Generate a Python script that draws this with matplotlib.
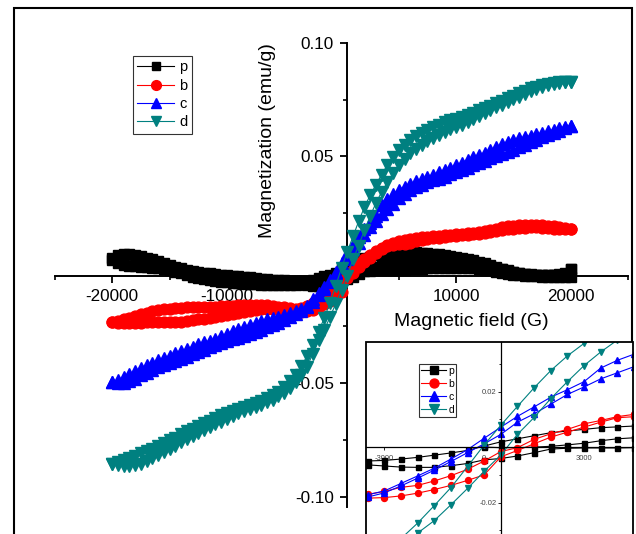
import matplotlib
matplotlib.use("Agg")
import matplotlib.pyplot as plt
from matplotlib.patches import Rectangle
from matplotlib.ticker import FixedLocator

plt.rcParams['font.family'] = ['Liberation Sans', 'DejaVu Sans']

# ---------------- data (field in G, magnetization in emu/g) ----------------
FIELD_DOWN = [20000, 19500, 19000, 18500, 18000, 17500, 17000, 16500, 16000, 15500,
              15000, 14500, 14000, 13500, 13000, 12500, 12000, 11500, 11000, 10500,
              10000, 9500, 9000, 8500, 8000, 7500, 7000, 6500, 6000, 5500,
              5000, 4500, 4000, 3500, 3000, 2500, 2000, 1500, 1000, 500,
              0, -500, -1000, -1500, -2000, -2500, -3000, -3500, -4000, -4500,
              -5000, -5500, -6000, -6500, -7000, -7500, -8000, -8500, -9000, -9500,
              -10000, -10500, -11000, -11500, -12000, -12500, -13000, -13500, -14000, -14500,
              -15000, -15500, -16000, -16500, -17000, -17500, -18000, -18500, -19000, -19500,
              -20000]
FIELD_UP = FIELD_DOWN[::-1]
FIELD_VIRGIN = FIELD_UP[40:]

P_VIRGIN = [0.0000, -0.0002, -0.0002, 0.0000, 0.0003, 0.0008, 0.0014, 0.0023, 0.0030, 0.0034,
            0.0036, 0.0037, 0.0038, 0.0038, 0.0038, 0.0038, 0.0038, 0.0037, 0.0037, 0.0036,
            0.0035, 0.0034, 0.0032, 0.0029, 0.0026, 0.0021, 0.0016, 0.0010, 0.0004, -0.0002,
            -0.0008, -0.0013, -0.0017, -0.0020, -0.0022, -0.0023, -0.0024, -0.0024, -0.0024, -0.0022,
            0.0005]
P_DOWN = [0.0005, -0.0015, -0.0020, -0.0021, -0.0022, -0.0023, -0.0022, -0.0021, -0.0019, -0.0016,
          -0.0011, -0.0005, 0.0003, 0.0011, 0.0019, 0.0028, 0.0036, 0.0043, 0.0049, 0.0053,
          0.0057, 0.0061, 0.0065, 0.0068, 0.0071, 0.0074, 0.0076, 0.0078, 0.0079, 0.0080,
          0.0079, 0.0076, 0.0073, 0.0070, 0.0064, 0.0058, 0.0052, 0.0041, 0.0030, 0.0019,
          0.0004, -0.0012, -0.0021, -0.0029, -0.0037, -0.0043, -0.0048, -0.0050, -0.0050, -0.0049,
          -0.0047, -0.0045, -0.0043, -0.0041, -0.0039, -0.0036, -0.0033, -0.0030, -0.0028, -0.0026,
          -0.0024, -0.0021, -0.0018, -0.0015, -0.0012, -0.0009, -0.0005, 0.0000, 0.0006, 0.0012,
          0.0020, 0.0028, 0.0037, 0.0046, 0.0054, 0.0060, 0.0065, 0.0068, 0.0068, 0.0063,
          0.0052]
P_UP = [0.0045, 0.0032, 0.0023, 0.0018, 0.0015, 0.0013, 0.0011, 0.0009, 0.0006, 0.0002,
        -0.0003, -0.0009, -0.0015, -0.0022, -0.0030, -0.0036, -0.0041, -0.0045, -0.0049, -0.0052,
        -0.0055, -0.0058, -0.0060, -0.0062, -0.0063, -0.0064, -0.0065, -0.0066, -0.0066, -0.0066,
        -0.0066, -0.0066, -0.0065, -0.0064, -0.0068, -0.0072, -0.0073, -0.0073, -0.0067, -0.0059,
        -0.0046, -0.0041, -0.0032, -0.0020, -0.0007, -0.0004, -0.0003, -0.0003, -0.0003, -0.0002,
        -0.0001, 0.0000, 0.0002, 0.0004, 0.0005, 0.0006, 0.0007, 0.0008, 0.0008, 0.0008,
        0.0008, 0.0008, 0.0007, 0.0006, 0.0004, 0.0001, -0.0003, -0.0008, -0.0013, -0.0018,
        -0.0022, -0.0025, -0.0027, -0.0028, -0.0029, -0.0030, -0.0031, -0.0032, -0.0033, -0.0034,
        -0.0030]

B_DOWN = [0.0178, 0.0183, 0.0188, 0.0192, 0.0195, 0.0197, 0.0198, 0.0199, 0.0198, 0.0197,
          0.0195, 0.0191, 0.0187, 0.0182, 0.0176, 0.0171, 0.0166, 0.0162, 0.0160, 0.0158,
          0.0156, 0.0154, 0.0152, 0.0150, 0.0148, 0.0146, 0.0143, 0.0140, 0.0136, 0.0131,
          0.0125, 0.0118, 0.0110, 0.0096, 0.0084, 0.0064, 0.0048, 0.0028, -0.0002, -0.0016,
          -0.0050, -0.0080, -0.0103, -0.0122, -0.0138, -0.0145, -0.0160, -0.0170, -0.0172, -0.0170,
          -0.0166, -0.0162, -0.0158, -0.0155, -0.0154, -0.0154, -0.0155, -0.0156, -0.0157, -0.0158,
          -0.0160, -0.0161, -0.0162, -0.0162, -0.0162, -0.0163, -0.0164, -0.0165, -0.0167, -0.0169,
          -0.0171, -0.0174, -0.0178, -0.0183, -0.0190, -0.0197, -0.0204, -0.0212, -0.0219, -0.0226,
          -0.0231]
B_UP = [-0.0231, -0.0235, -0.0236, -0.0235, -0.0234, -0.0233, -0.0232, -0.0232, -0.0232, -0.0232,
        -0.0232, -0.0231, -0.0229, -0.0227, -0.0223, -0.0219, -0.0215, -0.0212, -0.0209, -0.0205,
        -0.0200, -0.0195, -0.0190, -0.0185, -0.0181, -0.0178, -0.0175, -0.0173, -0.0172, -0.0172,
        -0.0173, -0.0176, -0.0180, -0.0184, -0.0182, -0.0176, -0.0166, -0.0153, -0.0138, -0.0120,
        -0.0100, -0.0035, -0.0012, 0.0012, 0.0036, 0.0054, 0.0072, 0.0090, 0.0106, 0.0110,
        0.0112, 0.0115, 0.0120, 0.0126, 0.0131, 0.0135, 0.0139, 0.0142, 0.0145, 0.0148,
        0.0150, 0.0152, 0.0155, 0.0157, 0.0159, 0.0162, 0.0165, 0.0169, 0.0174, 0.0179,
        0.0182, 0.0185, 0.0186, 0.0187, 0.0187, 0.0186, 0.0184, 0.0181, 0.0180, 0.0179,
        0.0178]

C_DOWN = [0.0632, 0.0629, 0.0624, 0.0618, 0.0611, 0.0604, 0.0597, 0.0591, 0.0586, 0.0579,
          0.0572, 0.0564, 0.0554, 0.0542, 0.0529, 0.0517, 0.0507, 0.0497, 0.0486, 0.0473,
          0.0460, 0.0450, 0.0440, 0.0430, 0.0420, 0.0410, 0.0400, 0.0390, 0.0379, 0.0367,
          0.0353, 0.0335, 0.0313, 0.0285, 0.0236, 0.0207, 0.0180, 0.0145, 0.0111, 0.0072,
          0.0032, -0.0009, -0.0043, -0.0076, -0.0104, -0.0131, -0.0158, -0.0172, -0.0182, -0.0192,
          -0.0200, -0.0207, -0.0213, -0.0218, -0.0226, -0.0235, -0.0245, -0.0254, -0.0262, -0.0270,
          -0.0281, -0.0294, -0.0304, -0.0313, -0.0320, -0.0328, -0.0339, -0.0349, -0.0359, -0.0369,
          -0.0379, -0.0389, -0.0399, -0.0409, -0.0420, -0.0432, -0.0445, -0.0458, -0.0472, -0.0485,
          -0.0495]
C_UP = [-0.0495, -0.0500, -0.0499, -0.0492, -0.0480, -0.0466, -0.0453, -0.0441, -0.0430, -0.0422,
        -0.0413, -0.0403, -0.0393, -0.0383, -0.0373, -0.0362, -0.0352, -0.0342, -0.0333, -0.0323,
        -0.0314, -0.0307, -0.0300, -0.0293, -0.0285, -0.0276, -0.0264, -0.0254, -0.0244, -0.0233,
        -0.0222, -0.0210, -0.0196, -0.0180, -0.0165, -0.0140, -0.0112, -0.0083, -0.0052, -0.0020,
        0.0012, 0.0046, 0.0090, 0.0120, 0.0155, 0.0190, 0.0217, 0.0246, 0.0268, 0.0290,
        0.0318, 0.0336, 0.0350, 0.0363, 0.0375, 0.0385, 0.0394, 0.0402, 0.0411, 0.0421,
        0.0431, 0.0441, 0.0451, 0.0460, 0.0471, 0.0481, 0.0491, 0.0501, 0.0511, 0.0520,
        0.0530, 0.0541, 0.0551, 0.0562, 0.0573, 0.0584, 0.0595, 0.0604, 0.0613, 0.0623,
        0.0632]

D_DOWN = [0.0830, 0.0829, 0.0827, 0.0824, 0.0820, 0.0815, 0.0808, 0.0800, 0.0790, 0.0779,
          0.0767, 0.0756, 0.0745, 0.0734, 0.0723, 0.0713, 0.0703, 0.0692, 0.0683, 0.0675,
          0.0667, 0.0659, 0.0650, 0.0640, 0.0628, 0.0616, 0.0603, 0.0588, 0.0571, 0.0551,
          0.0527, 0.0497, 0.0462, 0.0420, 0.0374, 0.0329, 0.0276, 0.0214, 0.0147, 0.0079,
          0.0008, -0.0070, -0.0146, -0.0211, -0.0274, -0.0330, -0.0380, -0.0425, -0.0462, -0.0492,
          -0.0518, -0.0537, -0.0553, -0.0566, -0.0577, -0.0587, -0.0596, -0.0605, -0.0614, -0.0622,
          -0.0632, -0.0642, -0.0654, -0.0665, -0.0676, -0.0688, -0.0700, -0.0712, -0.0726, -0.0740,
          -0.0751, -0.0763, -0.0776, -0.0789, -0.0800, -0.0810, -0.0820, -0.0830, -0.0840, -0.0849,
          -0.0857]
D_UP = [-0.0857, -0.0862, -0.0864, -0.0864, -0.0862, -0.0856, -0.0845, -0.0832, -0.0818, -0.0804,
        -0.0790, -0.0775, -0.0761, -0.0746, -0.0732, -0.0719, -0.0706, -0.0693, -0.0682, -0.0670,
        -0.0657, -0.0645, -0.0633, -0.0623, -0.0615, -0.0606, -0.0597, -0.0585, -0.0572, -0.0558,
        -0.0543, -0.0523, -0.0495, -0.0465, -0.0427, -0.0370, -0.0310, -0.0265, -0.0208, -0.0149,
        -0.0087, -0.0028, 0.0046, 0.0107, 0.0175, 0.0236, 0.0294, 0.0343, 0.0386, 0.0425,
        0.0460, 0.0490, 0.0513, 0.0533, 0.0552, 0.0568, 0.0582, 0.0596, 0.0608, 0.0619,
        0.0629, 0.0640, 0.0652, 0.0665, 0.0678, 0.0691, 0.0704, 0.0716, 0.0728, 0.0740,
        0.0751, 0.0764, 0.0776, 0.0788, 0.0799, 0.0808, 0.0815, 0.0820, 0.0824, 0.0827,
        0.0830]

LABELS = ["p", "b", "c", "d"]
COLORS = ["#000000", "#ff0000", "#0000ff", "#008080"]
MARKERS = ["s", "o", "^", "v"]

MAIN_XTICKS = [-20000, -10000, 10000, 20000]
MAIN_XTICKLABELS = ["-20000", "-10000", "10000", "20000"]
MAIN_XMINOR = [-25000, -15000, -5000, 5000, 15000, 25000]
MAIN_YTICKS = [-0.10, -0.05, 0.05, 0.10]
MAIN_YTICKLABELS = ["-0.10", "-0.05", "0.05", "0.10"]
MAIN_YMINOR = [-0.075, -0.025, 0.025, 0.075]
INSET_XTICKS = [-3000, 0, 3000]
INSET_XTICKLABELS = ["-3000", "0", "3000"]
INSET_YTICKS = [-0.02, 0.02]
INSET_YTICKLABELS = ["-0.02", "0.02"]
INSET_YMINOR = [-0.03, -0.01, 0.01, 0.03]

series_x = [FIELD_VIRGIN + FIELD_DOWN + FIELD_UP, FIELD_DOWN + FIELD_UP,
            FIELD_DOWN + FIELD_UP, FIELD_DOWN + FIELD_UP]
series_y = [P_VIRGIN + P_DOWN + P_UP, B_DOWN + B_UP, C_DOWN + C_UP, D_DOWN + D_UP]

# ---------------- figure ----------------
W, H = 636, 534
fig = plt.figure(figsize=(W / 100, H / 100), dpi=100)


def rect(l, t, r, b):
    return [l / W, 1 - b / H, (r - l) / W, (b - t) / H]


# outer frame of the original graph page
fig.add_artist(Rectangle((14 / W, -0.1), (632 - 14) / W, 1.1 - 8 / H,
                         transform=fig.transFigure, fill=False, lw=1.5, ec="black"))

# main axes
ax = fig.add_axes(rect(55, 43, 628, 507))
ax.set_xlim(-25000, 25000)
ax.set_ylim(-0.1046, 0.10)
ax.patch.set_visible(False)
ax.set_axisbelow(True)
for s in ["top", "right"]:
    ax.spines[s].set_visible(False)
ax.spines["left"].set_position(("data", 500))
ax.spines["bottom"].set_position(("data", -0.0028))
for s in ["left", "bottom"]:
    ax.spines[s].set_linewidth(1.4)
    ax.spines[s].set_zorder(0.5)

ms_main = [6.8, 7.8, 8.3, 8.3]
handles = []
for x, y, lab, col, mk, ms in zip(series_x, series_y, LABELS, COLORS, MARKERS, ms_main):
    h, = ax.plot(x, y, marker=mk, color=col, mec=col, mfc=col, ms=ms, lw=0.8, label=lab)
    handles.append(h)

ax.xaxis.set_major_locator(FixedLocator(MAIN_XTICKS))
ax.set_xticklabels(MAIN_XTICKLABELS)
ax.xaxis.set_minor_locator(FixedLocator(MAIN_XMINOR))
ax.yaxis.set_major_locator(FixedLocator(MAIN_YTICKS))
ax.set_yticklabels(MAIN_YTICKLABELS)
ax.yaxis.set_minor_locator(FixedLocator(MAIN_YMINOR))
ax.tick_params(axis="both", which="major", direction="out", length=5, width=1.3,
               labelsize=12.3, pad=4.5)
ax.tick_params(axis="both", which="minor", direction="out", length=3, width=1.2)

fig.text(471 / W, 1 - 322 / H, "Magnetic field (G)", ha="center", va="center", fontsize=14)
fig.text(267 / W, 1 - 141 / H, "Magnetization (emu/g)", ha="center", va="center",
         rotation=90, fontsize=14)

leg = ax.legend(handles=handles, loc="upper left", bbox_to_anchor=(133 / W, 1 - 56 / H),
                bbox_transform=fig.transFigure, fontsize=10.5, frameon=True, fancybox=False,
                borderaxespad=0, borderpad=0.3, labelspacing=0.3, handlelength=2.5,
                handletextpad=0.35, numpoints=1, markerscale=0.9)
leg.get_frame().set_edgecolor("black")
leg.get_frame().set_linewidth(0.8)

# inset axes
axi = fig.add_axes(rect(366, 342, 633, 560), zorder=5)
axi.set_xlim(-3550, 4470)
axi.set_ylim(-0.0407, 0.0379)
axi.set_facecolor("white")
for s in ["top", "right"]:
    axi.spines[s].set_visible(False)
axi.spines["left"].set_position(("data", 500))
axi.spines["bottom"].set_position(("data", 0))
for s in ["left", "bottom"]:
    axi.spines[s].set_linewidth(0.9)
axi.add_patch(Rectangle((0, 0), 1, 1, transform=axi.transAxes, fill=False, lw=1.3,
                        ec="black", clip_on=False, zorder=10))

ms_in = [3.6, 4.3, 4.8, 4.8]
ihandles = []
for x, y, lab, col, mk, ms in zip(series_x, series_y, LABELS, COLORS, MARKERS, ms_in):
    h, = axi.plot(x, y, marker=mk, color=col, mec=col, mfc=col, ms=ms, lw=0.8, label=lab)
    ihandles.append(h)

axi.xaxis.set_major_locator(FixedLocator(INSET_XTICKS))
axi.set_xticklabels(INSET_XTICKLABELS)
axi.yaxis.set_major_locator(FixedLocator(INSET_YTICKS))
axi.set_yticklabels(INSET_YTICKLABELS)
axi.yaxis.set_minor_locator(FixedLocator(INSET_YMINOR))
axi.tick_params(axis="both", which="major", direction="out", length=2, width=0.6,
                labelsize=5.5, labelcolor="#444444", pad=1)
axi.tick_params(axis="x", which="major", pad=4)
axi.tick_params(axis="y", which="minor", direction="out", length=1.5, width=0.6)

ileg = axi.legend(handles=ihandles, loc="upper left", bbox_to_anchor=(419 / W, 1 - 364 / H),
                  bbox_transform=fig.transFigure, fontsize=7.5, frameon=True, fancybox=False,
                  borderaxespad=0, borderpad=0.2, labelspacing=0.28, handlelength=2.4,
                  handletextpad=0.2, numpoints=1, markerscale=1.5)
ileg.get_frame().set_edgecolor("black")
ileg.get_frame().set_linewidth(0.8)

fig.savefig("out.png", dpi=100)
